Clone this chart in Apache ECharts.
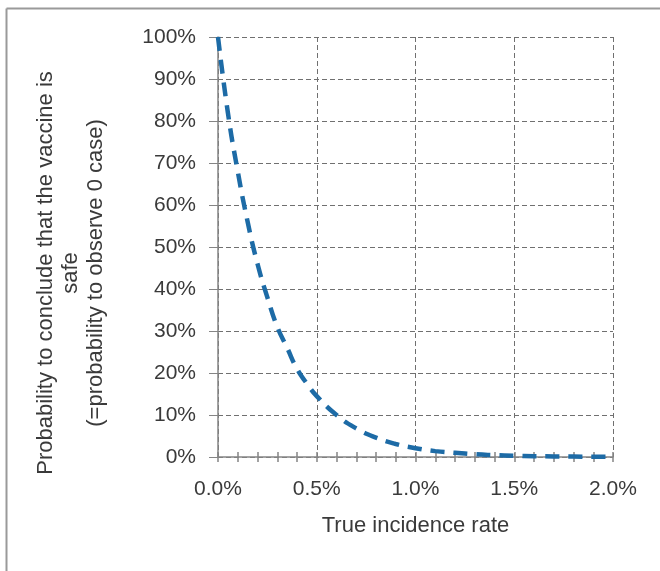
<!DOCTYPE html>
<html>
<head>
<meta charset="utf-8">
<script src="https://cdn.jsdelivr.net/npm/echarts@6/dist/echarts.min.js"></script>
<style>
html,body{margin:0;padding:0;background:#fff;}
#chart{width:660px;height:571px;}
</style>
</head>
<body>
<div id="chart"></div>
<script>
// True incidence rate (%)
var incidenceRate = [0, 0.05, 0.10, 0.15, 0.20, 0.25, 0.30, 0.35, 0.40, 0.45, 0.50, 0.60, 0.70, 0.80, 0.90, 1.00, 1.10, 1.20, 1.30, 1.40, 1.50, 1.60, 1.70, 1.80, 1.90, 2.00];
// Probability to observe 0 case (%)
var probabilitySafe = [100, 82, 68, 56, 46, 38, 31, 26, 21, 17.5, 14.5, 10, 6.8, 4.6, 3.1, 2.1, 1.4, 1.0, 0.65, 0.45, 0.3, 0.2, 0.14, 0.1, 0.06, 0.04];
var xTicks = [0, 0.5, 1.0, 1.5, 2.0];
var yTicks = [0, 10, 20, 30, 40, 50, 60, 70, 80, 90, 100];
var xTitle = 'True incidence rate';
var yTitleLines = ['Probability to conclude that the vaccine is', 'safe', '(=probability to observe 0 case)'];

var seriesData = incidenceRate.map(function (x, i) { return [x, probabilitySafe[i]]; });

var FONT = 'Liberation Sans, Arial, sans-serif';
var TEXT = '#3a3a3a';
var AXIS = '#858585';

var chart = echarts.init(document.getElementById('chart'));
chart.setOption({
  backgroundColor: '#fff',
  animation: false,
  grid: { left: 218, right: 47, top: 37, bottom: 114 },
  xAxis: [{
    type: 'value',
    min: xTicks[0], max: xTicks[xTicks.length - 1], interval: 0.5,
    name: xTitle, nameLocation: 'middle', nameGap: 58,
    nameTextStyle: { fontFamily: FONT, fontSize: 22, color: TEXT },
    axisLine: { show: true, lineStyle: { color: AXIS, width: 1.5 } },
    axisTick: { show: true, length: 5, lineStyle: { color: AXIS, width: 1.5 } },
    minorTick: { show: true, splitNumber: 5, length: 5, lineStyle: { color: AXIS, width: 1.5 } },
    axisLabel: { margin: 22, fontFamily: FONT, fontSize: 21, color: TEXT,
      formatter: function (v) { return v.toFixed(1) + '%'; } },
    splitLine: { show: true, lineStyle: { color: '#707070', type: [5, 3], width: 1 } }
  }, {
    type: 'value',
    position: 'bottom',
    min: xTicks[0], max: xTicks[xTicks.length - 1], interval: 0.5,
    axisLine: { show: false },
    axisTick: { show: true, inside: true, length: 5, lineStyle: { color: AXIS, width: 1.5 } },
    minorTick: { show: true, splitNumber: 5, length: 5, lineStyle: { color: AXIS, width: 1.5 } },
    axisLabel: { show: false },
    splitLine: { show: false }
  }],
  yAxis: {
    type: 'value',
    min: yTicks[0], max: yTicks[yTicks.length - 1], interval: 10,
    axisLine: { show: true, lineStyle: { color: AXIS, width: 1.5 } },
    axisTick: { show: true, length: 9, lineStyle: { color: AXIS, width: 1 } },
    axisLabel: { margin: 22, fontFamily: FONT, fontSize: 21, color: TEXT,
      formatter: function (v) { return v + '%'; } },
    splitLine: { show: true, lineStyle: { color: '#707070', type: [5, 3], width: 1 } }
  },
  graphic: [
    { type: 'line', shape: { x1: 6.5, y1: 8.5, x2: 660, y2: 8.5 }, style: { stroke: '#9a9a9a', lineWidth: 2 } },
    { type: 'line', shape: { x1: 6.5, y1: 8.5, x2: 6.5, y2: 571 }, style: { stroke: '#9a9a9a', lineWidth: 2 } },
    { type: 'text', x: 71, y: 273, rotation: Math.PI / 2,
      style: { text: yTitleLines.join('\n'), font: '22px ' + FONT, fill: TEXT,
        textAlign: 'center', textVerticalAlign: 'middle', lineHeight: 25 } }
  ],
  series: [{
    type: 'line',
    xAxisIndex: 0,
    data: seriesData,
    smooth: true,
    symbol: 'none',
    lineStyle: { color: '#1d6ba6', width: 4.5, type: [14, 9] }
  }]
});
</script>
</body>
</html>
